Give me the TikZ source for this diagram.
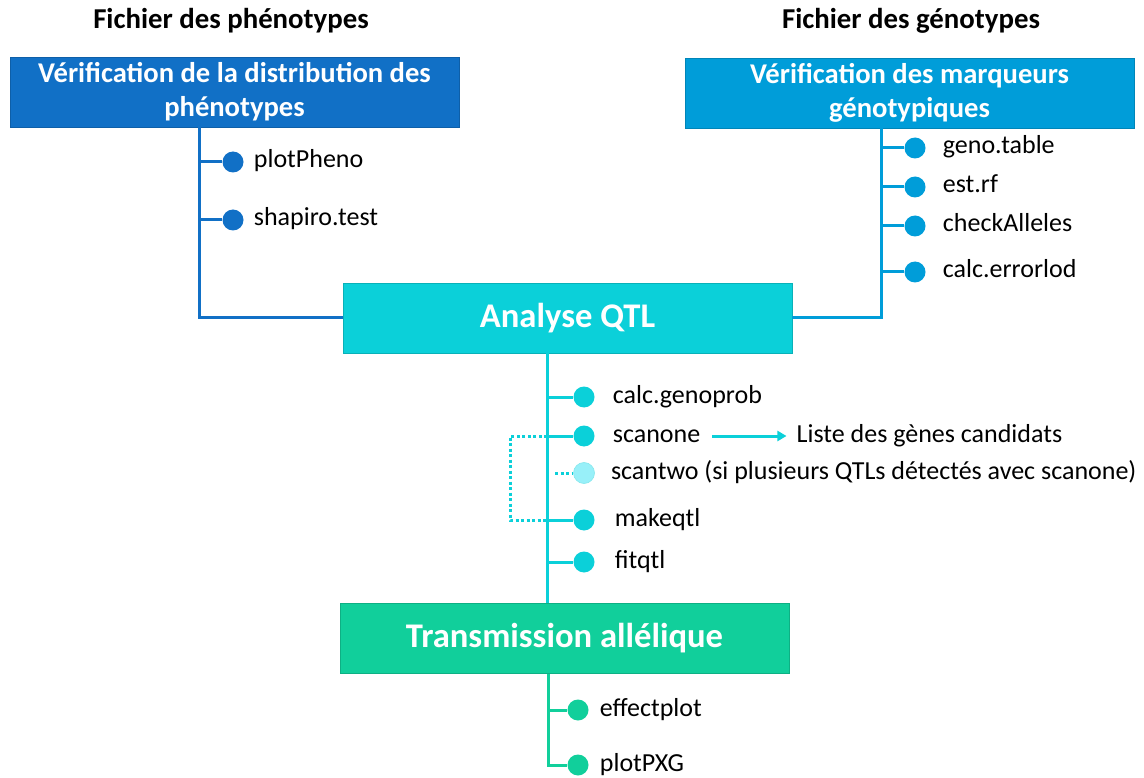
\documentclass[tikz,border=0pt]{standalone}
\usepackage{fontspec}
\setmainfont{Carlito}
\usepackage{tikz}
\usetikzlibrary{arrows.meta,positioning}
\definecolor{phenoblue}{RGB}{17,112,198}
\definecolor{genoblue}{RGB}{0,157,217}
\definecolor{qtlcyan}{RGB}{11,208,217}
\definecolor{transgreen}{RGB}{17,207,155}
\definecolor{scantwocyan}{RGB}{152,240,249}

\begin{document}
\begin{tikzpicture}[x=1pt, y=-1pt,
    filehead/.style={font=\fontsize{28.8}{34}\selectfont\bfseries, inner sep=0pt},
    taskbox/.style={draw=#1!85!black, line width=0.8pt, fill=#1, text=white, minimum width=449pt, minimum height=70pt, inner sep=0pt, align=center, font=\fontsize{28.6}{34}\selectfont\bfseries},
    bigbox/.style={taskbox=#1, font=\fontsize{34.6}{40}\selectfont\bfseries},
    bead/.style={circle, fill=#1, minimum size=21pt, inner sep=0pt},
    fname/.style={font=\fontsize{26}{30}\selectfont, inner sep=0pt, text height=16pt, text depth=4pt},
    wire/.style={line width=3pt, #1},
    dotwire/.style={line width=3pt, qtlcyan, dash pattern=on 3pt off 2.5pt},
    arr/.style={-{Triangle[length=9pt, width=10pt]}, line width=3pt, qtlcyan}
]
    \useasboundingbox (0,0) rectangle (1144,778);

    \node[filehead] (hpheno) at (231,21) {Fichier des phénotypes};
    \node[filehead] (hgeno) at (911,21) {Fichier des génotypes};

    \node[taskbox=phenoblue] (pheno) at (234.5,92) {Vérification de la distribution des\\phénotypes};
    \node[taskbox=genoblue] (geno) at (909.5,93) {Vérification des marqueurs\\génotypiques};
    \node[bigbox=qtlcyan] (qtl) at (567.5,318) {Analyse QTL};
    \node[bigbox=transgreen] (trans) at (564.5,638.5) {Transmission allélique};

    \coordinate (tP) at (199,0);
    \coordinate (tG) at (881,0);
    \coordinate (tQ) at (547,0);
    \coordinate (tQs) at (555,0);
    \coordinate (bk) at (510,0);
    \coordinate (tT) at (548,0);

    \node[bead=phenoblue] (p1) at (233,162) {};
    \node[fname, right=10pt of p1] (p1l) {plotPheno};
    \node[bead=phenoblue] (p2) at (233,220) {};
    \node[fname, right=10pt of p2] (p2l) {shapiro.test};

    \node[bead=genoblue] (g1) at (915,148) {};
    \node[fname, right=17pt of g1] (g1l) {geno.table};
    \node[bead=genoblue] (g2) at (915,187) {};
    \node[fname, right=17pt of g2] (g2l) {est.rf};
    \node[bead=genoblue] (g3) at (915,226) {};
    \node[fname, right=17pt of g3] (g3l) {checkAlleles};
    \node[bead=genoblue] (g4) at (915,272) {};
    \node[fname, right=17pt of g4] (g4l) {calc.errorlod};

    \node[bead=qtlcyan] (q1) at (584,397) {};
    \node[fname, right=18pt of q1] (q1l) {calc.genoprob};
    \node[bead=qtlcyan] (q2) at (584,436) {};
    \node[fname, right=18pt of q2] (q2l) {scanone};
    \node[fname, right=96pt of q2l] (cand) {Liste des gènes candidats};
    \node[bead=scantwocyan, draw=qtlcyan!50, line width=0.6pt] (q3) at (584,473) {};
    \node[fname, right=16pt of q3] (q3l) {scantwo (si plusieurs QTLs détectés avec scanone)};
    \node[bead=qtlcyan] (q4) at (584,520) {};
    \node[fname, right=20pt of q4] (q4l) {makeqtl};
    \node[bead=qtlcyan] (q5) at (584,562) {};
    \node[fname, right=20pt of q5] (q5l) {fitqtl};

    \node[bead=transgreen] (t1) at (578,710) {};
    \node[fname, right=11pt of t1] (t1l) {effectplot};
    \node[bead=transgreen] (t2) at (578,765) {};
    \node[fname, right=11pt of t2] (t2l) {plotPXG};

    \draw[dotwire] (q2 -| tQ) -- (q2 -| bk) -- (q4 -| bk) -- (q4 -| tQ);
    \draw[dotwire] (q3 -| tQs) -- (q3);

    \draw[wire=phenoblue] (pheno.south -| tP) |- (qtl.west);
    \draw[wire=phenoblue] (p1 -| tP) -- (p1);
    \draw[wire=phenoblue] (p2 -| tP) -- (p2);

    \draw[wire=genoblue] (geno.south -| tG) |- (qtl.east);
    \draw[wire=genoblue] (g1 -| tG) -- (g1);
    \draw[wire=genoblue] (g2 -| tG) -- (g2);
    \draw[wire=genoblue] (g3 -| tG) -- (g3);
    \draw[wire=genoblue] (g4 -| tG) -- (g4);

    \draw[wire=qtlcyan] (qtl.south -| tQ) -- (trans.north -| tQ);
    \draw[wire=qtlcyan] (q1 -| tQ) -- (q1);
    \draw[wire=qtlcyan] (q2 -| tQ) -- (q2);
    \draw[wire=qtlcyan] (q4 -| tQ) -- (q4);
    \draw[wire=qtlcyan] (q5 -| tQ) -- (q5);
    \draw[arr] ([xshift=12pt]q2l.east) -- ([xshift=-10pt]cand.west);

    \draw[wire=transgreen] (trans.south -| tT) |- (t2);
    \draw[wire=transgreen] (t1 -| tT) -- (t1);
\end{tikzpicture}
\end{document}
